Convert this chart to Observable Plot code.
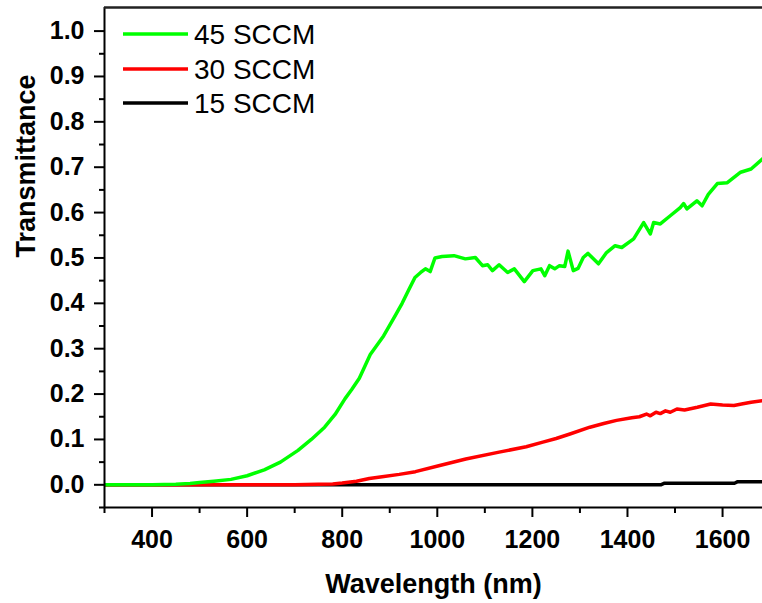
<!DOCTYPE html>
<html><head><meta charset="utf-8">
<script src="https://cdn.jsdelivr.net/npm/d3@7"></script>
<script src="https://cdn.jsdelivr.net/npm/@observablehq/plot@0.6"></script>
<style>body{margin:0;background:#fff} svg{display:block}</style>
</head><body><div id="chart"></div>
<script>
const seriesNames = ["45 SCCM", "30 SCCM", "15 SCCM"];
const seriesColors = ["#00ff00", "#ff0000", "#000000"];

const wl45 = [300, 400, 450, 480, 500, 530, 566, 600, 636, 670, 707, 735, 763, 785, 806, 820, 836, 859, 887, 910, 926, 940, 953, 965, 975, 985, 995, 1010, 1035, 1059, 1080, 1095, 1106, 1116, 1130, 1148, 1162, 1183, 1201, 1218, 1226, 1236, 1247, 1257, 1268, 1275, 1286, 1296, 1307, 1317, 1339, 1356, 1374, 1388, 1413, 1434, 1448, 1455, 1469, 1490, 1511, 1518, 1525, 1546, 1557, 1570, 1589, 1610, 1638, 1660, 1688];
const t45 = [0, 0, 0.001, 0.003, 0.005, 0.008, 0.012, 0.02, 0.033, 0.05, 0.076, 0.1, 0.127, 0.155, 0.19, 0.21, 0.235, 0.287, 0.328, 0.37, 0.40, 0.43, 0.457, 0.468, 0.476, 0.470, 0.50, 0.503, 0.505, 0.498, 0.501, 0.483, 0.485, 0.472, 0.485, 0.468, 0.476, 0.448, 0.472, 0.476, 0.461, 0.483, 0.476, 0.483, 0.481, 0.515, 0.472, 0.477, 0.501, 0.510, 0.487, 0.512, 0.527, 0.523, 0.542, 0.578, 0.553, 0.578, 0.575, 0.593, 0.611, 0.620, 0.608, 0.626, 0.615, 0.64, 0.664, 0.666, 0.689, 0.696, 0.722];

const wl30 = [300, 700, 750, 780, 800, 830, 857, 884, 920, 954, 1003, 1060, 1130, 1187, 1222, 1250, 1279, 1321, 1350, 1377, 1409, 1425, 1440, 1448, 1460, 1469, 1480, 1490, 1504, 1520, 1547, 1575, 1600, 1624, 1640, 1660, 1688];
const t30 = [0, 0, 0.001, 0.002, 0.004, 0.008, 0.014, 0.018, 0.023, 0.029, 0.042, 0.057, 0.072, 0.084, 0.094, 0.102, 0.112, 0.127, 0.135, 0.142, 0.148, 0.150, 0.156, 0.152, 0.160, 0.157, 0.163, 0.160, 0.167, 0.165, 0.171, 0.178, 0.176, 0.175, 0.178, 0.182, 0.186];

const wl15 = [300, 1470, 1478, 1625, 1632, 1688];
const t15 = [0, 0, 0.0035, 0.0035, 0.007, 0.007];

const xTicks = [400, 600, 800, 1000, 1200, 1400, 1600];
const xMinor = [300, 500, 700, 900, 1100, 1300, 1500];
const yTicks = [0, 0.1, 0.2, 0.3, 0.4, 0.5, 0.6, 0.7, 0.8, 0.9, 1.0];
const yMinor = [-0.05, 0.05, 0.15, 0.25, 0.35, 0.45, 0.55, 0.65, 0.75, 0.85, 0.95];
const xLabel = "Wavelength (nm)";
const yLabel = "Transmittance";

const toRows = (wl, t, s) => wl.map((w, i) => ({wl: w, t: t[i], series: s}));
const rows45 = toRows(wl45, t45, seriesNames[0]);
const rows30 = toRows(wl30, t30, seriesNames[1]);
const rows15 = toRows(wl15, t15, seriesNames[2]);

const X0 = 300, X1 = 1684, Y0 = -0.05, Y1 = 1.052;
const FONT = "'Liberation Sans', Arial, sans-serif";

const plot = Plot.plot({
  width: 762, height: 603,
  marginLeft: 104, marginRight: 0, marginTop: 7, marginBottom: 96,
  style: {fontFamily: FONT, background: "#fff", color: "#000"},
  x: {domain: [X0, X1]},
  y: {domain: [Y0, Y1]},
  color: {domain: seriesNames, range: seriesColors},
  marks: [
    Plot.line(rows15, {x: "wl", y: "t", stroke: "series", strokeWidth: 3.5, clip: true}),
    Plot.line(rows30, {x: "wl", y: "t", stroke: "series", strokeWidth: 3.5, clip: true}),
    Plot.line(rows45, {x: "wl", y: "t", stroke: "series", strokeWidth: 3.5, clip: true}),
    Plot.ruleX([X0], {stroke: "#000", strokeWidth: 2}),
    Plot.ruleY([Y0], {stroke: "#000", strokeWidth: 2}),
    Plot.ruleY([Y1], {stroke: "#222", strokeWidth: 2.5}),
    Plot.axisY(yTicks, {anchor: "left", tickSize: 10, tickPadding: 10, strokeWidth: 2, fontSize: 25, fontWeight: "bold", tickFormat: d3.format(".1f"), label: null}),
    Plot.axisY(yMinor, {anchor: "left", tickSize: 5, strokeWidth: 2, tickFormat: () => "", label: null}),
    Plot.axisX(xTicks, {anchor: "bottom", tickSize: 10, tickPadding: 13, strokeWidth: 2, fontSize: 25, fontWeight: "bold", tickFormat: d3.format("d"), label: null}),
    Plot.axisX(xMinor, {anchor: "bottom", tickSize: 6, strokeWidth: 2, tickFormat: () => "", label: null}),
    Plot.text([xLabel], {frameAnchor: "bottom", dy: 77, text: d => d, fontSize: 27, fontWeight: "bold", lineAnchor: "middle"}),
    Plot.text([yLabel], {frameAnchor: "left", dx: -78, rotate: -90, text: d => d, fontSize: 27, fontWeight: "bold", lineAnchor: "middle"})
  ]
});
document.getElementById("chart").appendChild(plot);

// legend
const svg = d3.select(plot);
const leg = svg.append("g");
const legY = [34, 69, 103];
seriesNames.forEach((name, i) => {
  leg.append("line").attr("x1", 123).attr("x2", 188).attr("y1", legY[i]).attr("y2", legY[i])
    .attr("stroke", seriesColors[i]).attr("stroke-width", 3.5);
  leg.append("text").attr("x", 194).attr("y", legY[i]).attr("dy", "0.35em")
    .attr("text-anchor", "start")
    .style("font-family", FONT).style("font-size", "28px").style("font-weight", "normal")
    .attr("fill", "#000").text(name);
});
</script>
</body></html>
